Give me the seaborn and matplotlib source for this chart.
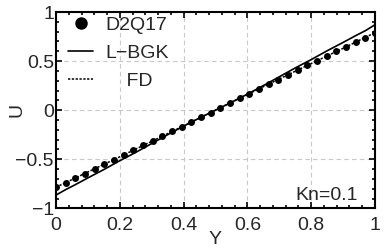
import numpy as np
import pandas as pd
import matplotlib
matplotlib.use("Agg")
import matplotlib.pyplot as plt
from matplotlib.ticker import MultipleLocator, FuncFormatter
import seaborn as sns

# ---- data ----
y_d2q17 = [k / 33 for k in range(34)]
u_d2q17 = [-0.785, -0.740, -0.695, -0.646, -0.598, -0.551, -0.503, -0.455,
           -0.407, -0.359, -0.311, -0.263, -0.215, -0.168, -0.120, -0.072,
           -0.024, 0.024, 0.072, 0.120, 0.168, 0.215, 0.263, 0.311,
           0.359, 0.407, 0.455, 0.503, 0.551, 0.598, 0.646, 0.695,
           0.740, 0.790]

y_lbgk = [0.0, 0.03, 0.06, 0.10, 0.15, 0.20, 0.25, 0.30, 0.35, 0.40, 0.45, 0.50,
          0.55, 0.60, 0.65, 0.70, 0.75, 0.80, 0.85, 0.90, 0.94, 0.97, 1.0]
u_lbgk = [-0.865, -0.810, -0.760, -0.690, -0.605, -0.515, -0.430, -0.340,
          -0.250, -0.163, -0.080, 0.0, 0.080, 0.163, 0.250, 0.340, 0.430,
          0.515, 0.605, 0.690, 0.760, 0.810, 0.870]

y_fd = [0.0, 0.1, 0.2, 0.3, 0.4, 0.5, 0.6, 0.7, 0.8, 0.9, 1.0]
u_fd = [-0.785, -0.630, -0.475, -0.318, -0.160, 0.0, 0.160, 0.318, 0.475,
        0.630, 0.790]

xticks = [0, 0.2, 0.4, 0.6, 0.8, 1]
yticks = [-1, -0.5, 0, 0.5, 1]
annotation = "Kn=0.1"

sns.set_style("ticks")
plt.rcParams['font.family'] = ['Liberation Sans', 'DejaVu Sans']
plt.rcParams['font.size'] = 14
plt.rcParams['axes.unicode_minus'] = True

FS = 14

fig = plt.figure(figsize=(3.9, 2.48), dpi=100)
ax = fig.add_axes([0.1436, 0.160, 0.8179, 0.7916])

df_d = pd.DataFrame({"Y": y_d2q17, "U": u_d2q17})
df_l = pd.DataFrame({"Y": y_lbgk, "U": u_lbgk})
df_f = pd.DataFrame({"Y": y_fd, "U": u_fd})

sns.lineplot(data=df_d, x="Y", y="U", ax=ax, color="black", linestyle="none",
             marker="o", markersize=5, markeredgewidth=0, label="D2Q17")
sns.lineplot(data=df_l, x="Y", y="U", ax=ax, color="black", linewidth=1.2,
             label="L\u2212BGK")
sns.lineplot(data=df_f, x="Y", y="U", ax=ax, color="black", linewidth=1.1,
             linestyle=(0, (1.5, 1)), label="    FD")

ax.set_xlim(0, 1)
ax.set_ylim(-1, 1)
ax.set_xticks(xticks)
ax.set_yticks(yticks)
fmt = FuncFormatter(lambda v, p: f"{v:g}".replace('-', '\u2212'))
ax.xaxis.set_major_formatter(fmt)
ax.yaxis.set_major_formatter(fmt)
ax.xaxis.set_minor_locator(MultipleLocator(0.04))
ax.yaxis.set_minor_locator(MultipleLocator(0.1))
ax.tick_params(which="both", direction="in", top=True, right=True,
               labelsize=FS, width=1.2, color="black")
ax.tick_params(which="major", length=4)
ax.tick_params(which="minor", length=2.5)
ax.tick_params(axis="x", pad=6)
ax.tick_params(axis="y", pad=1.5)
for s in ax.spines.values():
    s.set_linewidth(1.5)
    s.set_color("black")
ax.grid(True, which="major", linestyle=(0, (4, 3)), color="#c8c8c8", linewidth=0.8)

ax.set_xlabel("Y", fontsize=FS)
ax.set_ylabel("U", fontsize=FS)
ax.xaxis.set_label_coords(0.5, -0.115)
ax.yaxis.set_label_coords(-0.097, 0.5)

ax.text(0.945, -0.955, annotation, ha="right", va="bottom", fontsize=FS)

leg = ax.legend(loc="upper left", bbox_to_anchor=(0.025, 1.0), frameon=False,
                fontsize=FS, markerscale=1.8, handlelength=1.3,
                handletextpad=0.62, borderaxespad=0.0, borderpad=0.2,
                labelspacing=0.55)

fig.savefig("out.png", dpi=100)
